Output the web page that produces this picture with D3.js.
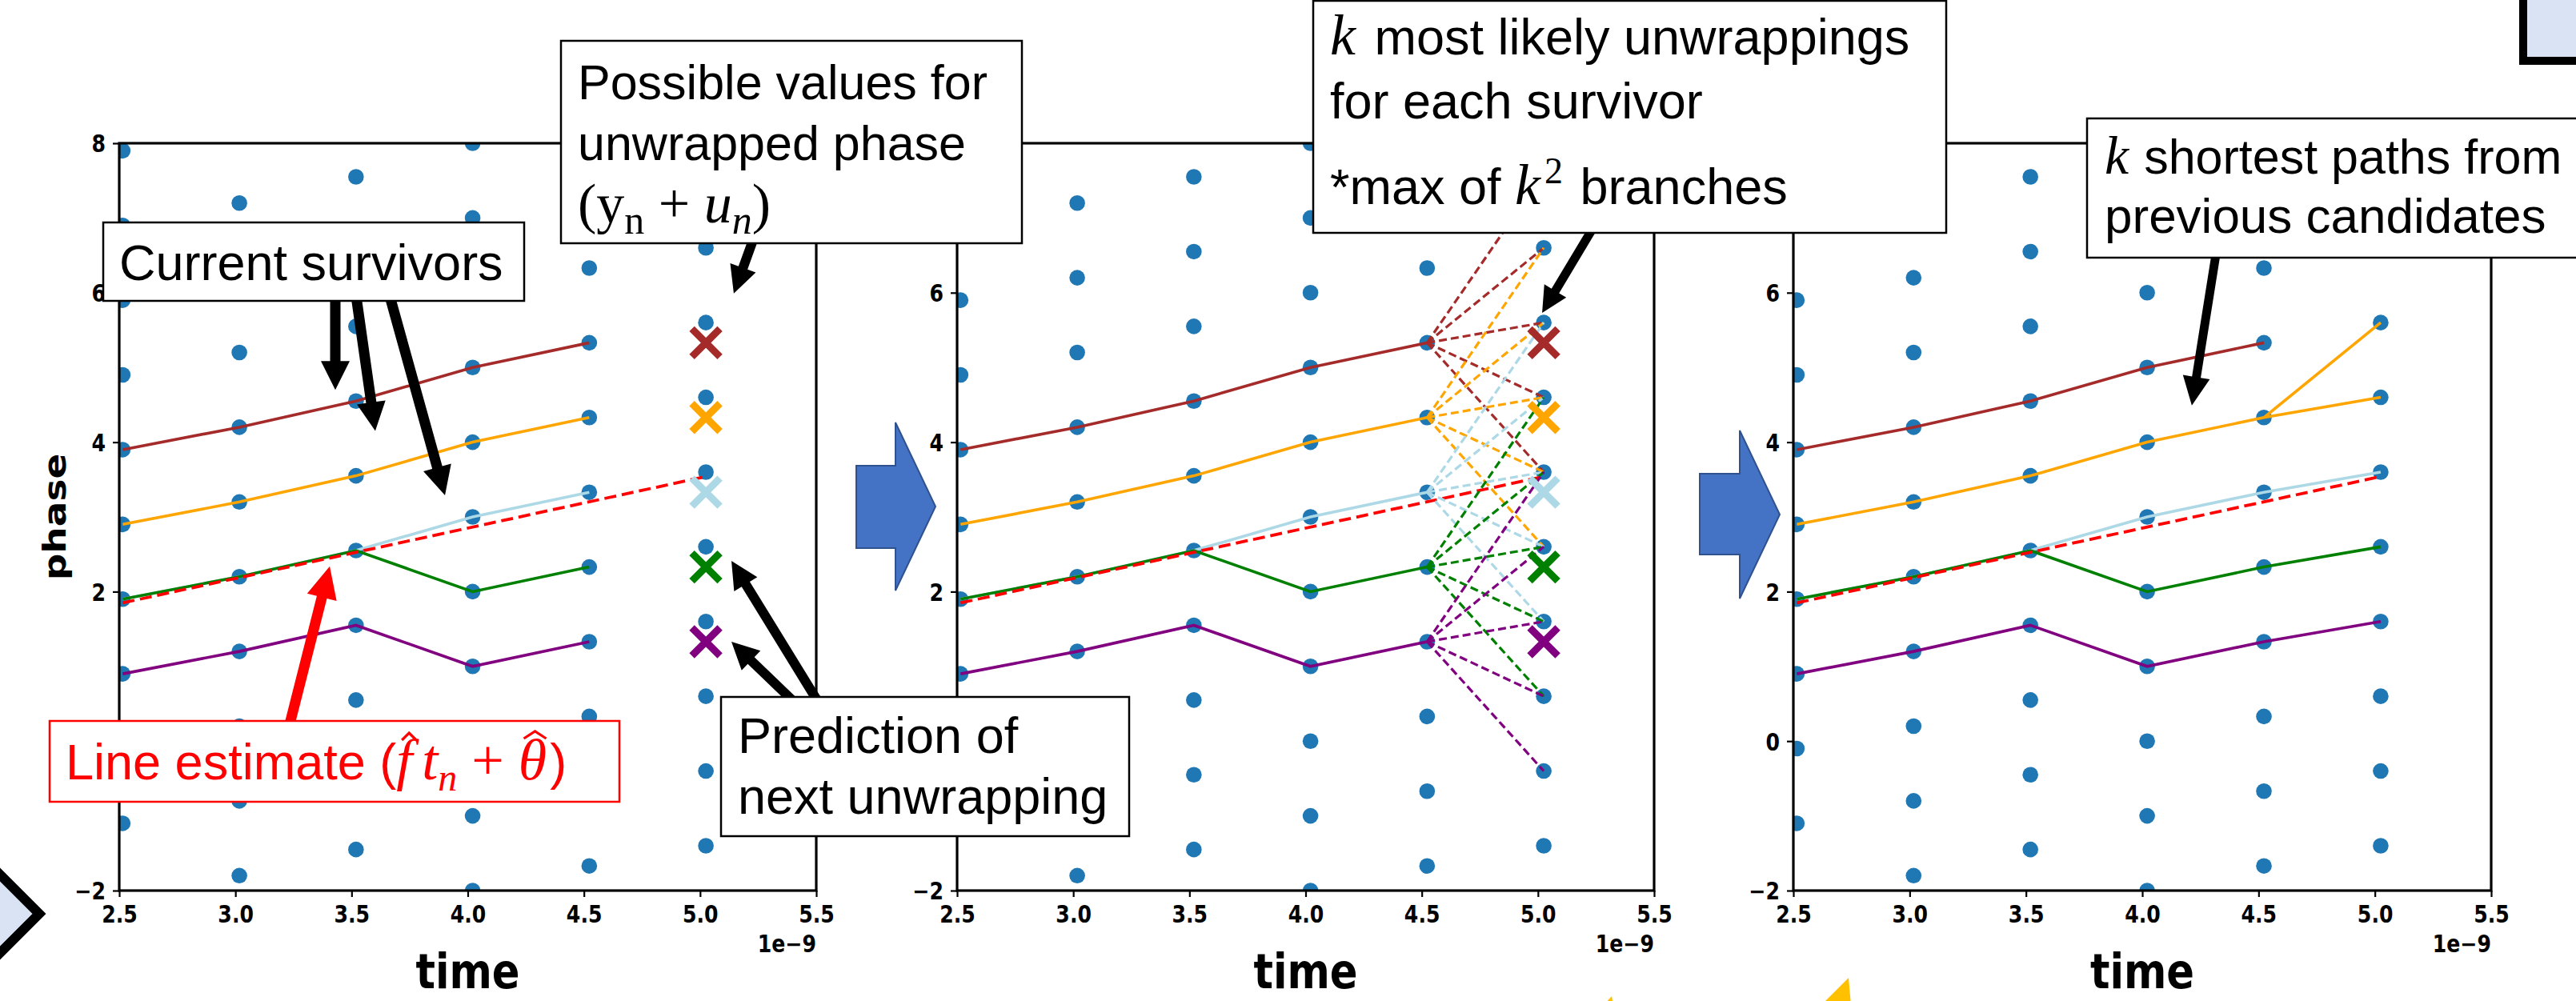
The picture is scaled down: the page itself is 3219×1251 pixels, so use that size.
<!DOCTYPE html>
<html lang="en">
<head>
<meta charset="utf-8">
<title>Phase unwrapping survivors</title>
<script src="https://cdn.jsdelivr.net/npm/d3@7"></script>
<style>
  body { margin: 0; background: #fff; }
  .plottext { font-family: "DejaVu Sans", sans-serif; font-weight: bold; }
  .note { font-family: "Liberation Sans", Arial, sans-serif; }
  .math { font-family: "Liberation Serif", "DejaVu Serif", serif; }
</style>
</head>
<body>
<script>
var W = 3219, H = 1251;

// time steps (units of 1e-9 s)
var times = [2.515, 3.017, 3.519, 4.021, 4.523, 5.025];

// possible unwrapped phase values at each time step
var candidates = [
  [7.9, 6.9, 5.9, 4.9, 3.9, 2.9, 1.9, 0.9, -0.1, -1.1],
  [7.2, 6.2, 5.2, 4.2, 3.2, 2.2, 1.2, 0.2, -0.8, -1.8],
  [7.55, 6.55, 5.55, 4.55, 3.55, 2.55, 1.55, 0.55, -0.45, -1.45],
  [8.0, 7.0, 6.0, 5.0, 4.0, 3.0, 2.0, 1.0, 0.0, -1.0, -2.0],
  [7.33, 6.33, 5.33, 4.33, 3.33, 2.33, 1.33, 0.33, -0.67, -1.67],
  [7.6, 6.6, 5.6, 4.6, 3.6, 2.6, 1.6, 0.6, -0.4, -1.4]
];

var survivorNames = ["brown", "orange", "lightblue", "green", "purple"];
var survivorColors = ["#a52a2a", "#ffa500", "#add8e6", "#008000", "#800080"];

// survivor paths up to t = 4.5
var survBrown = [3.9, 4.2, 4.55, 5.0, 5.33];
var survOrange = [2.9, 3.2, 3.55, 4.0, 4.33];
var survLightblue = [1.9, 2.2, 2.55, 3.0, 3.33];
var survGreen = [1.9, 2.2, 2.55, 2.0, 2.33];
var survPurple = [0.9, 1.2, 1.55, 1.0, 1.33];
var survivors = [survBrown, survOrange, survLightblue, survGreen, survPurple];

// predicted next unwrapping (x markers at t = 5.0)
var predictions = [5.33, 4.33, 3.33, 2.33, 1.33];

// k most likely unwrappings per survivor (dashed branches)
var branches = [
  [7.6, 6.6, 5.6, 4.6, 3.6],
  [6.6, 5.6, 4.6, 3.6, 2.6],
  [5.6, 4.6, 3.6, 2.6, 1.6],
  [4.6, 3.6, 2.6, 1.6, 0.6],
  [3.6, 2.6, 1.6, 0.6, -0.4]
];

// chosen extensions at t = 5.0 (k shortest paths)
var chosen = [[], [4.6, 5.6], [3.6], [2.6], [1.6]];

// line estimate f*t + theta, at first and last time
var estimateTimes = [2.515, 5.025];
var estimateValues = [1.85, 3.54];

var xTicks = [2.5, 3.0, 3.5, 4.0, 4.5, 5.0, 5.5];
var yTicks = [-2, 0, 2, 4, 6, 8];
// y tick labels that sit under the slide's text boxes
var hiddenYLabels = [[0], [0, 8], [8]];

var plotTop = 179, plotBottom = 1113;
var panelX = [[149, 1020], [1196, 2067], [2241, 3113]];
var squeeze = 0.84;

var svg = d3.select("body").append("svg")
  .attr("width", W).attr("height", H)
  .style("display", "block");

var y = d3.scaleLinear().domain([-2, 8]).range([plotBottom, plotTop]);
var scales = [];

function squeezedText(g, x, yy, txt, size, anchor) {
  return g.append("text")
    .attr("class", "plottext")
    .attr("transform", "translate(" + x + "," + yy + ") scale(" + squeeze + ",1)")
    .attr("text-anchor", anchor)
    .attr("font-size", size)
    .text(txt);
}

function drawX(g, cx, cy, color) {
  var s = 17.5;
  g.append("path")
    .attr("d", "M" + (cx - s) + "," + (cy - s) + "L" + (cx + s) + "," + (cy + s) +
               "M" + (cx - s) + "," + (cy + s) + "L" + (cx + s) + "," + (cy - s))
    .attr("stroke", color).attr("stroke-width", 9).attr("fill", "none");
}

panelX.forEach(function(px, p) {
  var x = d3.scaleLinear().domain([2.5, 5.5]).range(px);
  scales.push(x);
  var g = svg.append("g");

  svg.append("clipPath").attr("id", "clip" + p)
    .append("rect")
    .attr("x", px[0]).attr("y", plotTop)
    .attr("width", px[1] - px[0]).attr("height", plotBottom - plotTop);

  var plot = g.append("g").attr("clip-path", "url(#clip" + p + ")");

  // candidate dots
  candidates.forEach(function(col, i) {
    plot.selectAll(null)
      .data(col)
      .enter()
      .append("circle")
      .attr("cx", x(times[i]))
      .attr("cy", function(d) { return y(d); })
      .attr("r", 9.8)
      .attr("fill", "#1f77b4");
  });

  var line = d3.line()
    .x(function(d) { return x(d[0]); })
    .y(function(d) { return y(d[1]); });

  // survivor paths
  survivors.forEach(function(s, k) {
    var pts = s.map(function(v, i) { return [times[i], v]; });
    if (p == 2 && chosen[k].length > 0) {
      pts.push([times[5], chosen[k][0]]);
    }
    plot.append("path")
      .attr("d", line(pts))
      .attr("fill", "none")
      .attr("stroke", survivorColors[k])
      .attr("stroke-width", 3.6);
    if (p == 2 && chosen[k].length > 1) {
      plot.append("path")
        .attr("d", line([[times[4], s[4]], [times[5], chosen[k][1]]]))
        .attr("fill", "none")
        .attr("stroke", survivorColors[k])
        .attr("stroke-width", 3.6);
    }
  });

  // line estimate
  plot.append("path")
    .attr("d", line([[estimateTimes[0], estimateValues[0]], [estimateTimes[1], estimateValues[1]]]))
    .attr("fill", "none")
    .attr("stroke", "#ff0000")
    .attr("stroke-width", 3.8)
    .attr("stroke-dasharray", "15,7");

  // branches in the middle panel
  if (p == 1) {
    branches.forEach(function(b, k) {
      b.forEach(function(v) {
        plot.append("path")
          .attr("d", line([[times[4], survivors[k][4]], [times[5], v]]))
          .attr("fill", "none")
          .attr("stroke", survivorColors[k])
          .attr("stroke-width", 3.2)
          .attr("stroke-dasharray", "10,5");
      });
    });
  }

  // predictions
  if (p < 2) {
    predictions.forEach(function(v, k) {
      drawX(plot, x(times[5]), y(v), survivorColors[k]);
    });
  }

  // axes
  var xAxis = d3.axisBottom(x).tickValues(xTicks).tickSize(8).tickFormat(d3.format(".1f"));
  var gx = g.append("g").attr("transform", "translate(0," + plotBottom + ")").call(xAxis);
  gx.select(".domain").remove();
  gx.selectAll(".tick line").attr("stroke-width", 2.2);
  gx.selectAll(".tick text")
    .attr("class", "plottext")
    .attr("y", 40).attr("dy", null)
    .attr("font-size", 30)
    .attr("transform", "scale(" + squeeze + ",1)")
    .attr("fill", "#000");

  var yAxis = d3.axisLeft(y).tickValues(yTicks).tickSize(8).tickFormat(function(d) {
    return hiddenYLabels[p].indexOf(d) >= 0 ? "" : d3.format("d")(d);
  });
  var gy = g.append("g").attr("transform", "translate(" + px[0] + ",0)").call(yAxis);
  gy.select(".domain").remove();
  gy.selectAll(".tick line").attr("stroke-width", 2.2);
  gy.selectAll(".tick text")
    .attr("class", "plottext")
    .attr("x", -17 / squeeze).attr("dy", "0.36em")
    .attr("font-size", 30)
    .attr("transform", "scale(" + squeeze + ",1)")
    .attr("fill", "#000");

  g.append("rect")
    .attr("x", px[0]).attr("y", plotTop)
    .attr("width", px[1] - px[0]).attr("height", plotBottom - plotTop)
    .attr("fill", "none").attr("stroke", "#000").attr("stroke-width", 3.2);

  squeezedText(g, px[1], 1190, "1e\u22129", 30, "end");
  squeezedText(g, (px[0] + px[1]) / 2, 1235, "time", 61, "middle");

  if (p == 0) {
    g.append("text")
      .attr("class", "plottext")
      .attr("transform", "translate(82," + (plotTop + plotBottom) / 2 + ") scale(" + squeeze + ",1) rotate(-90)")
      .attr("text-anchor", "middle")
      .attr("font-size", 47)
      .text("phase");
  }
});

// ---------- slide decorations ----------
function arrowPoly(x0, y0, x1, y1, shaft, headW, headL) {
  var dx = x1 - x0, dy = y1 - y0, len = Math.sqrt(dx * dx + dy * dy);
  var ux = dx / len, uy = dy / len, nx = -uy, ny = ux;
  var bx = x1 - ux * headL, by = y1 - uy * headL;
  var pts = [
    [x0 + nx * shaft / 2, y0 + ny * shaft / 2],
    [bx + nx * shaft / 2, by + ny * shaft / 2],
    [bx + nx * headW / 2, by + ny * headW / 2],
    [x1, y1],
    [bx - nx * headW / 2, by - ny * headW / 2],
    [bx - nx * shaft / 2, by - ny * shaft / 2],
    [x0 - nx * shaft / 2, y0 - ny * shaft / 2]
  ];
  return pts.map(function(q) { return q.join(","); }).join(" ");
}

// callout arrows: tail in page pixels, tip in panel data coordinates
var callouts = [
  { from: [419, 370], panel: 0, to: [3.430, 4.70], color: "#000", w: 13, hw: 36, hl: 36 },
  { from: [445, 370], panel: 0, to: [3.602, 4.15], color: "#000", w: 13, hw: 36, hl: 36 },
  { from: [487, 370], panel: 0, to: [3.902, 3.29], color: "#000", w: 13, hw: 36, hl: 36 },
  { from: [362, 905], panel: 0, to: [3.406, 2.34], color: "#ff0000", w: 13, hw: 38, hl: 40 },
  { from: [941, 300], panel: 0, to: [5.145, 5.99], color: "#000", w: 12, hw: 34, hl: 34 },
  { from: [1021, 875], panel: 0, to: [5.135, 2.41], color: "#000", w: 12, hw: 34, hl: 34 },
  { from: [990, 875], panel: 0, to: [5.135, 1.33], color: "#000", w: 12, hw: 34, hl: 34 },
  { from: [1990, 286], panel: 1, to: [5.018, 5.73], color: "#000", w: 11, hw: 32, hl: 32 },
  { from: [2769, 318], panel: 2, to: [4.213, 4.49], color: "#000", w: 11, hw: 34, hl: 36 }
];
callouts.forEach(function(c) {
  var tx = scales[c.panel](c.to[0]), ty = y(c.to[1]);
  svg.append("polygon")
    .attr("points", arrowPoly(c.from[0], c.from[1], tx, ty, c.w, c.hw, c.hl))
    .attr("fill", c.color);
});

// blue block arrows between panels
[[1070, 1119, 1169, 582, 685, 528, 738], [2124, 2174, 2224, 592, 693, 538, 748]].forEach(function(a) {
  var mid = (a[5] + a[6]) / 2;
  svg.append("polygon")
    .attr("points", [[a[0], a[3]], [a[1], a[3]], [a[1], a[5]], [a[2], mid], [a[1], a[6]], [a[1], a[4]], [a[0], a[4]]]
      .map(function(q) { return q.join(","); }).join(" "))
    .attr("fill", "#4472c4").attr("stroke", "#2f528f").attr("stroke-width", 2);
});

// yellow fragments at the bottom edge
svg.append("polygon").attr("points", "2310,1222 2276,1256 2313,1256").attr("fill", "#ffc000");
svg.append("polygon").attr("points", "2004,1256 2014,1245 2016,1256").attr("fill", "#ffc000");

// light shapes cut by the edges
svg.append("rect").attr("x", 3153).attr("y", -30).attr("width", 200).attr("height", 106)
  .attr("fill", "#dae3f3").attr("stroke", "#000").attr("stroke-width", 10);
svg.append("polygon").attr("points", "49,1142 -15,1078 -80,1142 -15,1206")
  .attr("fill", "#dae3f3").attr("stroke", "#000").attr("stroke-width", 12);

// text boxes
function box(x0, y0, x1, y1, stroke) {
  svg.append("rect").attr("x", x0).attr("y", y0).attr("width", x1 - x0).attr("height", y1 - y0)
    .attr("fill", "#fff").attr("stroke", stroke || "#000").attr("stroke-width", 2.5);
}
function noteLine(x, yy, size, color) {
  return svg.append("text").attr("class", "note").attr("x", x).attr("y", yy)
    .attr("font-size", size).attr("fill", color || "#000");
}
// hat accent drawn over one character of a text element
function hat(textSel, index, color, halfW, lift, shift) {
  var e = textSel.node().getExtentOfChar(index);
  var cx = e.x + e.width / 2 + shift, top = e.y + lift;
  svg.append("path")
    .attr("d", "M" + (cx - halfW) + "," + (top + 9) + "L" + cx + "," + top + "L" + (cx + halfW) + "," + (top + 9))
    .attr("fill", "none").attr("stroke", color).attr("stroke-width", 3.2);
}

box(129, 278, 655, 376);
noteLine(149, 350, 63).text("Current survivors");

box(62, 901, 774, 1002, "#ff0000");
var le = noteLine(82, 974, 63, "#ff0000");
le.append("tspan").text("Line estimate (");
le.append("tspan").attr("class", "math").attr("font-style", "italic").attr("font-size", 72).text("f");
le.append("tspan").attr("class", "math").attr("font-style", "italic").attr("font-size", 72).attr("dx", 12).text("t");
le.append("tspan").attr("class", "math").attr("font-style", "italic").attr("font-size", 48).attr("dy", 14).text("n");
le.append("tspan").attr("class", "math").attr("font-size", 72).attr("dy", -14).text(" + ");
le.append("tspan").attr("class", "math").attr("font-style", "italic").attr("font-size", 72).text("\u03b8");
le.append("tspan").attr("font-size", 63).attr("dx", 4).text(")");
hat(le, 15, "#ff0000", 9, 6, 6);
hat(le, 21, "#ff0000", 14, 4, 3);

box(901, 871, 1411, 1045);
noteLine(922, 941, 63).text("Prediction of");
noteLine(922, 1017, 63).text("next unwrapping");

box(701, 51, 1277, 304);
noteLine(722, 124, 61).text("Possible values for");
noteLine(722, 200, 61).text("unwrapped phase");
var pv = noteLine(722, 278, 70);
pv.append("tspan").attr("class", "math").text("(y");
pv.append("tspan").attr("class", "math").attr("font-size", 50).attr("dy", 14).text("n");
pv.append("tspan").attr("class", "math").attr("dy", -14).text(" + ");
pv.append("tspan").attr("class", "math").attr("font-style", "italic").text("u");
pv.append("tspan").attr("class", "math").attr("font-style", "italic").attr("font-size", 50).attr("dy", 14).text("n");
pv.append("tspan").attr("class", "math").attr("dy", -14).text(")");

box(1641, 1, 2432, 291);
var b1 = noteLine(1662, 68, 63);
b1.append("tspan").attr("class", "math").attr("font-style", "italic").attr("font-size", 72).text("k");
b1.append("tspan").attr("dx", 6).text(" most likely unwrappings");
noteLine(1662, 148, 63).text("for each survivor");
var b3 = noteLine(1662, 255, 63);
b3.append("tspan").text("*max of ");
b3.append("tspan").attr("class", "math").attr("font-style", "italic").attr("font-size", 72).text("k");
b3.append("tspan").attr("class", "math").attr("font-size", 46).attr("dx", 5).attr("dy", -26).text("2");
b3.append("tspan").attr("dy", 26).attr("dx", 4).text(" branches");

box(2608, 148, 3240, 322);
var c1 = noteLine(2630, 217, 61);
c1.append("tspan").attr("class", "math").attr("font-style", "italic").attr("font-size", 68).text("k");
c1.append("tspan").attr("dx", 2).text(" shortest paths from");
noteLine(2630, 291, 62).text("previous candidates");
</script>
</body>
</html>
